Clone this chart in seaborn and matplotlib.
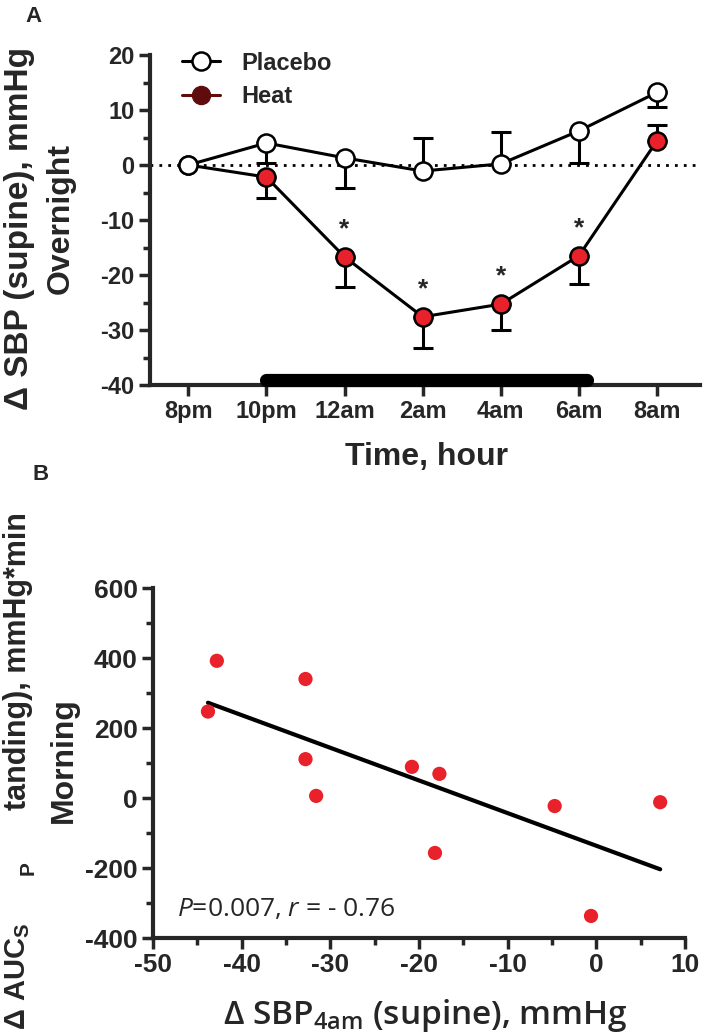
import numpy as np
import pandas as pd
import seaborn as sns
import matplotlib.pyplot as plt
from matplotlib.lines import Line2D
from matplotlib.ticker import MultipleLocator

# Panel A: overnight change in supine SBP
hours = ["8pm", "10pm", "12am", "2am", "4am", "6am", "8am"]
placebo = [0, 4.0, 1.3, -1.1, 0.2, 6.2, 13.2]
placebo_err_lo = [0, 3.7, 5.5, 0, 0, 5.9, 2.7]
placebo_err_hi = [0, 0, 0, 6.1, 5.8, 0, 0]
heat = [0, -2.2, -16.7, -27.6, -25.3, -16.5, 4.4]
heat_err_lo = [0, 3.8, 5.5, 5.7, 4.7, 5.1, 0]
heat_err_hi = [0, 0, 0, 0, 0, 0, 2.8]
signif = ["12am", "2am", "4am", "6am"]
sleep_span = ["10pm", "6am"]

# Panel B: morning AUC vs change in SBP at 4am
dsbp_4am = [-42.8, -43.8, -32.8, -32.8, -31.6, -20.8, -17.7, -18.2, -4.7, -0.6, 7.2]
dauc = [392, 247, 340, 111, 6, 89, 69, -157, -23, -337, -12]

sns.set_theme(style="ticks")
plt.rcParams["font.family"] = ["Liberation Sans", "DejaVu Sans"]
plt.rcParams["axes.unicode_minus"] = False
plt.rcParams["mathtext.fontset"] = "custom"
plt.rcParams["mathtext.default"] = "regular"
plt.rcParams["mathtext.it"] = "Open Sans:italic"
BOLD = ["Liberation Sans", "DejaVu Sans"]
OPEN = ["Open Sans", "DejaVu Sans"]
RED = "#e8212b"
MAROON = "#600c0c"

W, H = 709, 1036
fig = plt.figure(figsize=(W / 100, H / 100), dpi=100)


def fx(px):
    return px / W


def fy(py):
    return 1 - py / H


axA = fig.add_axes([fx(150), fy(385), fx(700) - fx(150), fy(55) - fy(385)])
axB = fig.add_axes([fx(153), fy(938), fx(685) - fx(153), fy(588) - fy(938)])

# ---------- Panel A ----------
xpos = np.arange(len(hours))
dfA = pd.DataFrame({"x": np.concatenate([xpos, xpos]),
                    "y": heat + placebo,
                    "group": ["Heat"] * len(hours) + ["Placebo"] * len(hours)})

axA.axhline(0, color="black", lw=2, ls=(0, (1, 2.2)), zorder=1)
axA.errorbar(xpos, heat, yerr=[heat_err_lo, heat_err_hi], fmt="none",
             ecolor="black", elinewidth=2.2, capsize=7, capthick=2.2, zorder=2)
axA.errorbar(xpos, placebo, yerr=[placebo_err_lo, placebo_err_hi], fmt="none",
             ecolor="black", elinewidth=2.2, capsize=7, capthick=2.2, zorder=2)
sns.lineplot(data=dfA[dfA.group == "Heat"], x="x", y="y", ax=axA, color="black",
             lw=2.2, marker="o", markersize=13, markerfacecolor=RED,
             markeredgecolor="black", markeredgewidth=1.8, zorder=3)
sns.lineplot(data=dfA[dfA.group == "Placebo"], x="x", y="y", ax=axA, color="black",
             lw=2.2, marker="o", markersize=13, markerfacecolor="white",
             markeredgecolor="black", markeredgewidth=1.8, zorder=4)

for h in signif:
    i = hours.index(h)
    axA.text(i, heat[i] + 5, "*", ha="center", va="center", fontsize=19,
             fontweight="bold")

i0, i1 = hours.index(sleep_span[0]), hours.index(sleep_span[1])
axA.plot([i0, i1 + 0.1], [-39.1, -39.1], color="black", lw=9.5,
         solid_capstyle="round", clip_on=False, zorder=5)

axA.set_xlim(-0.49, 6.55)
axA.set_ylim(-40, 20)
axA.set_xticks(xpos)
axA.set_xticklabels(hours)
axA.yaxis.set_major_locator(MultipleLocator(10))
axA.yaxis.set_minor_locator(MultipleLocator(5))
axA.set_xlabel("")
axA.set_ylabel("")

handles = [
    Line2D([], [], color="black", lw=2.2, marker="o", markersize=13,
           markerfacecolor="white", markeredgecolor="black", markeredgewidth=1.8),
    Line2D([], [], color=MAROON, lw=2.2, marker="o", markersize=13,
           markerfacecolor=MAROON, markeredgecolor=MAROON),
]
axA.legend(handles, ["Placebo", "Heat"], loc="upper left",
           bbox_to_anchor=(0.02, 1.075), frameon=False, handlelength=1.6,
           handletextpad=0.9, labelspacing=0.45,
           prop={"family": BOLD, "weight": "bold", "size": 17})

fig.text(fx(427), fy(457), "Time, hour", ha="center", va="center",
         fontsize=23, fontweight="bold")
fig.text(fx(20), fy(229), "Δ SBP (supine), mmHg", rotation=90, ha="center",
         va="center", fontsize=24, fontweight="bold")
fig.text(fx(61), fy(218), "Overnight", rotation=90, ha="center",
         va="center", fontsize=23, fontweight="bold")
fig.text(fx(34), fy(17), "A", ha="center", va="center", fontsize=16,
         fontweight="bold")

# ---------- Panel B ----------
dfB = pd.DataFrame({"dsbp": dsbp_4am, "dauc": dauc})
sns.regplot(data=dfB, x="dsbp", y="dauc", ax=axB, scatter=False, ci=None,
            line_kws={"color": "black", "lw": 3})
sns.scatterplot(data=dfB, x="dsbp", y="dauc", ax=axB, color=RED, s=105,
                edgecolor="none", zorder=4)
axB.set_xlim(-50, 10)
axB.set_ylim(-400, 600)
axB.xaxis.set_major_locator(MultipleLocator(10))
axB.xaxis.set_minor_locator(MultipleLocator(5))
axB.yaxis.set_major_locator(MultipleLocator(200))
axB.yaxis.set_minor_locator(MultipleLocator(100))
axB.set_xlabel("")
axB.set_ylabel("")
axB.text(-47.3, -318, r"$\mathit{P}$=0.007, $\mathit{r}$ = - 0.76", ha="left",
         va="center", fontsize=19, family=OPEN)

fig.text(fx(425), fy(1016), "Δ SBP$_{4am}$ (supine), mmHg", ha="center",
         va="center", fontsize=24, family=OPEN, fontweight="semibold")
fig.text(fx(18), fy(976), "Δ AUC$_{S}$", rotation=90, ha="center",
         va="center", fontsize=21, fontweight="bold")
fig.text(fx(28), fy(868), "P", rotation=90, ha="center",
         va="center", fontsize=15, fontweight="bold")
fig.text(fx(18), fy(661), "tanding), mmHg*min", rotation=90, ha="center",
         va="center", fontsize=22, fontweight="bold")
fig.text(fx(64), fy(760), "Morning", rotation=90, ha="center",
         va="center", fontsize=23, fontweight="bold")
fig.text(fx(41), fy(475), "B", ha="center", va="center", fontsize=16,
         fontweight="bold")

for ax, tsize in ((axA, 17), (axB, 19)):
    sns.despine(ax=ax)
    for s in ("left", "bottom"):
        ax.spines[s].set_linewidth(3)
    ax.tick_params(which="major", direction="out", length=8, width=2.5,
                   labelsize=tsize, pad=3)
    ax.tick_params(which="minor", direction="out", length=5, width=2.5)
    for lab in ax.get_xticklabels() + ax.get_yticklabels():
        lab.set_fontweight("bold")
    ax.set_facecolor("white")

fig.savefig("out.png", dpi=100, facecolor="white")
